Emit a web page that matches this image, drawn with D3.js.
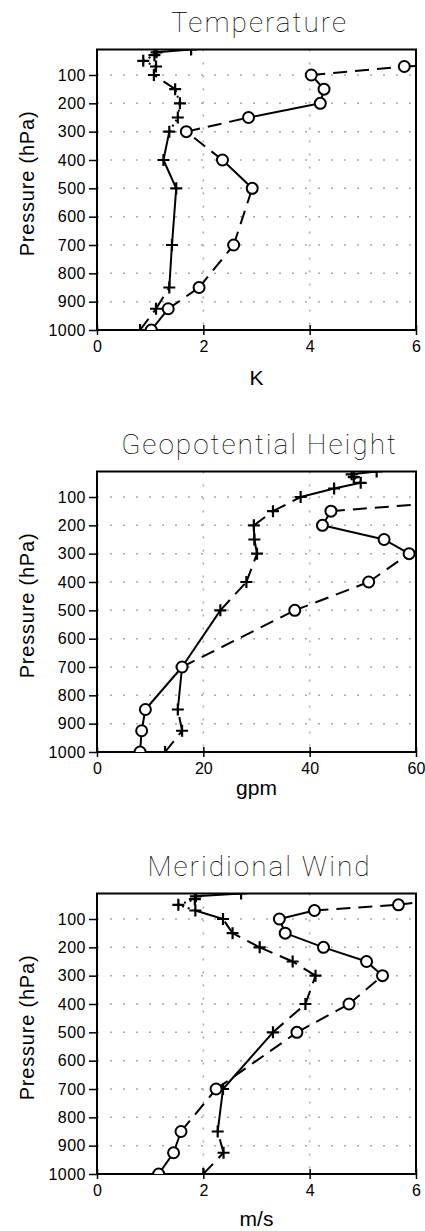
<!DOCTYPE html>
<html>
<head>
<meta charset="utf-8">
<script src="https://cdn.jsdelivr.net/npm/d3@7"></script>
<style>
  body { margin: 0; background: #fff; }
  svg { display: block; }
</style>
</head>
<body>
<svg id="chart" width="425" height="1231"></svg>
<script>
// pressure levels (hPa), bottom to top
const levels = [1000, 925, 850, 700, 500, 400, 300, 250, 200, 150, 100, 70, 50, 30, 20, 10];
const yTicks = [100, 200, 300, 400, 500, 600, 700, 800, 900, 1000];

// Temperature (K)
const tempPlus = [0.81, 1.11, 1.36, 1.41, 1.49, 1.25, 1.36, 1.52, 1.56, 1.47, 1.07, 1.11, 0.87, 1.08, 1.12, 1.77];
const tempCirc = [1.02, 1.34, 1.92, 2.57, 2.92, 2.36, 1.68, 2.85, 4.20, 4.27, 4.03, 5.78, 8.5, 9.0, 9.0, 9.0];
// significance of each segment (2 = strong, 1 = weak, 0 = none)
const tempPlusSig = [1, 1, 2, 2, 2, 2, 0, 0, 0, 1, 0, 0, 0, 2, 2];
const tempCircSig = [2, 1, 1, 1, 2, 1, 1, 2, 2, 2, 1, 1, 1, 1, 1];

// Geopotential height (gpm)
const hgtPlus = [12.8, 16.0, 15.2, 16.0, 23.2, 28.1, 30.1, 29.6, 29.5, 33.1, 38.3, 44.6, 49.6, 48.3, 47.9, 52.6];
const hgtCirc = [8.1, 8.4, 9.1, 16.0, 37.2, 51.1, 58.7, 54.0, 42.4, 44.0, 78, 85, 90, 95, 95, 95];
const hgtPlusSig = [1, 1, 2, 2, 1, 1, 2, 2, 1, 1, 2, 2, 0, 2, 2];
const hgtCircSig = [2, 2, 2, 1, 1, 1, 2, 2, 2, 1, 1, 1, 1, 1, 1];

// Meridional wind (m/s)
const windPlus = [2.0, 2.38, 2.27, 2.37, 3.31, 3.92, 4.11, 3.68, 3.06, 2.55, 2.37, 1.85, 1.53, 1.84, 1.86, 2.71];
const windCirc = [1.16, 1.44, 1.58, 2.24, 3.76, 4.74, 5.37, 5.07, 4.26, 3.54, 3.43, 4.09, 5.67, 6.5, 7.0, 7.0];
const windPlusSig = [1, 1, 2, 2, 1, 1, 1, 1, 1, 1, 2, 0, 0, 0, 2];
const windCircSig = [2, 2, 1, 1, 1, 1, 2, 2, 2, 2, 2, 1, 1, 1, 1];

const panels = [
  { title: "Temperature", unit: "K", unitDy: 55, xMax: 6, xTicks: [0, 2, 4, 6], plus: tempPlus, circ: tempCirc, plusSig: tempPlusSig, circSig: tempCircSig },
  { title: "Geopotential Height", unit: "gpm", unitDy: 43, xMax: 60, xTicks: [0, 20, 40, 60], plus: hgtPlus, circ: hgtCirc, plusSig: hgtPlusSig, circSig: hgtCircSig },
  { title: "Meridional Wind", unit: "m/s", unitDy: 52, xMax: 6, xTicks: [0, 2, 4, 6], plus: windPlus, circ: windCirc, plusSig: windPlusSig, circSig: windCircSig }
];

const svg = d3.select("#chart");
const left = 97, right = 416;
const panelH = 280.5, step = 422, firstTop = 49.5;
const labelFont = "'Liberation Sans', Arial, sans-serif";

// dash pattern by significance
function dashFor(s) {
  if (s === 2) return null;
  if (s === 1) return "14,8";
  return "2,4";
}

panels.forEach(function (p, i) {
  const top = firstTop + i * step;
  const bottom = top + panelH;
  const g = svg.append("g");

  const x = d3.scaleLinear().domain([0, p.xMax]).range([left, right]);
  const y = d3.scaleLinear().domain([10, 1000]).range([top, bottom]);

  const clipId = "clip" + i;
  g.append("clipPath").attr("id", clipId)
    .append("rect")
    .attr("x", left).attr("y", top)
    .attr("width", right - left).attr("height", bottom - top);

  // dotted grid
  g.selectAll(".hgrid").data(yTicks).join("line")
    .attr("x1", left).attr("x2", right)
    .attr("y1", d => y(d)).attr("y2", d => y(d))
    .attr("stroke", "#aaa").attr("stroke-width", 1.5)
    .attr("stroke-dasharray", "2,11");
  g.selectAll(".vgrid").data(p.xTicks.slice(1, -1)).join("line")
    .attr("x1", d => x(d)).attr("x2", d => x(d))
    .attr("y1", top).attr("y2", bottom)
    .attr("stroke", "#aaa").attr("stroke-width", 1.5)
    .attr("stroke-dasharray", "2,11");

  // y axis
  const yAxis = d3.axisLeft(y).tickValues(yTicks).tickFormat(d3.format("d")).tickSize(8).tickPadding(3);
  const ya = g.append("g").attr("transform", "translate(" + left + ",0)").call(yAxis);
  ya.select(".domain").remove();
  ya.selectAll("line").attr("stroke", "#000").attr("stroke-width", 1.5);
  ya.selectAll("text").attr("font-family", labelFont).attr("font-size", 16)
    .attr("letter-spacing", 0.5).attr("fill", "#000");

  // x axis
  const xAxis = d3.axisBottom(x).tickValues(p.xTicks).tickFormat(d3.format("d")).tickSize(5).tickPadding(6);
  const xa = g.append("g").attr("transform", "translate(0," + bottom + ")").call(xAxis);
  xa.select(".domain").remove();
  xa.selectAll("line").attr("stroke", "#000").attr("stroke-width", 1.5).attr("y1", -5);
  xa.selectAll("text").attr("font-family", labelFont).attr("font-size", 16)
    .attr("fill", "#000");

  // frame
  g.append("rect")
    .attr("x", left).attr("y", top)
    .attr("width", right - left).attr("height", bottom - top)
    .attr("fill", "none").attr("stroke", "#000").attr("stroke-width", 2);

  // title
  g.append("text")
    .attr("x", (left + right) / 2 + 3).attr("y", top - 18)
    .attr("text-anchor", "middle")
    .attr("font-family", "Roboto, sans-serif")
    .attr("font-weight", 100)
    .attr("font-size", 28)
    .attr("letter-spacing", 2)
    .attr("fill", "#000")
    .text(p.title);

  // unit label
  g.append("text")
    .attr("x", (left + right) / 2).attr("y", bottom + p.unitDy)
    .attr("text-anchor", "middle")
    .attr("font-family", labelFont)
    .attr("font-size", 21)
    .attr("fill", "#000")
    .text(p.unit);

  // y label
  g.append("text")
    .attr("transform", "translate(34," + (top + 134) + ") rotate(-90)")
    .attr("text-anchor", "middle")
    .attr("font-family", labelFont)
    .attr("font-size", 20)
    .attr("letter-spacing", 0.8)
    .attr("fill", "#000")
    .text("Pressure (hPa)");

  const plot = g.append("g").attr("clip-path", "url(#" + clipId + ")");

  function drawSeries(vals, sig) {
    const segs = d3.range(levels.length - 1).map(function (k) {
      return { x1: vals[k], p1: levels[k], x2: vals[k + 1], p2: levels[k + 1], s: sig[k] };
    });
    plot.append("g").selectAll("line").data(segs).join("line")
      .attr("x1", d => x(d.x1)).attr("y1", d => y(d.p1))
      .attr("x2", d => x(d.x2)).attr("y2", d => y(d.p2))
      .attr("stroke", "#000").attr("stroke-width", 2)
      .attr("stroke-dasharray", d => dashFor(d.s));
  }

  drawSeries(p.plus, p.plusSig);
  drawSeries(p.circ, p.circSig);

  // plus markers
  const pts = levels.map((l, k) => ({ v: p.plus[k], l: l }));
  plot.append("g").selectAll("path").data(pts).join("path")
    .attr("d", d => {
      const cx = x(d.v), cy = y(d.l), r = 6;
      return "M" + (cx - r) + "," + cy + "H" + (cx + r) + "M" + cx + "," + (cy - r) + "V" + (cy + r);
    })
    .attr("stroke", "#000").attr("stroke-width", 2.2).attr("fill", "none");

  // circle markers
  const cpts = levels.map((l, k) => ({ v: p.circ[k], l: l }));
  plot.append("g").selectAll("circle").data(cpts).join("circle")
    .attr("cx", d => x(d.v)).attr("cy", d => y(d.l))
    .attr("r", 5.5)
    .attr("fill", "#fff").attr("stroke", "#000").attr("stroke-width", 2);
});
</script>
</body>
</html>
